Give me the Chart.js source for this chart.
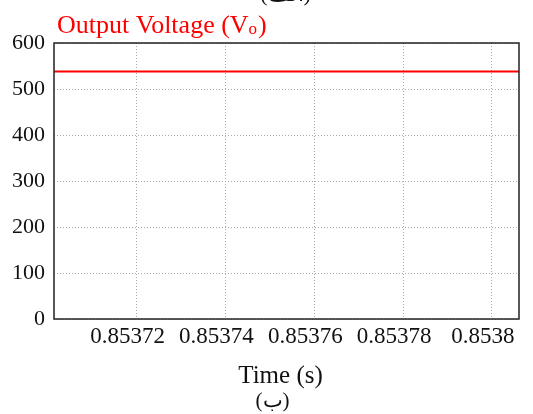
<!DOCTYPE html>
<html>
<head>
<meta charset="utf-8">
<script src="https://cdn.jsdelivr.net/npm/chart.js@4/dist/chart.umd.min.js"></script>
<style>
  html, body { margin: 0; padding: 0; background: #fff; }
  #wrap { width: 533px; height: 414px; position: relative; }
</style>
</head>
<body>
<div id="wrap"><canvas id="c" width="533" height="414"></canvas></div>
<script>
// Output voltage samples over the zoomed time window
const timeSec = [0.8537014, 0.85372, 0.85374, 0.85376, 0.85378, 0.8538, 0.8538061];
const voltage = [538, 538, 538, 538, 538, 538, 538];

// Axis ticks and their printed labels
const xTicks = [0.85372, 0.85374, 0.85376, 0.85378, 0.8538];
const xTickLabels = ['0.85372', '0.85374', '0.85376', '0.85378', '0.8538'];
const yTicks = [0, 100, 200, 300, 400, 500, 600];

const xMin = 0.8537014, xMax = 0.8538061;
const SERIF = '"Liberation Serif", "Times New Roman", serif';

// Frame, red heading "Output Voltage (Vo)", axis caption and sub-figure marks
const framePlugin = {
  id: 'frame',
  afterDraw(chart) {
    const { ctx, chartArea: a } = chart;
    ctx.save();
    ctx.strokeStyle = '#222';
    ctx.lineWidth = 1.5;
    ctx.strokeRect(a.left, a.top, a.right - a.left, a.bottom - a.top);

    // heading with subscript o
    ctx.fillStyle = '#ff0000';
    ctx.textBaseline = 'alphabetic';
    ctx.textAlign = 'left';
    ctx.font = '26px ' + SERIF;
    let x = a.left + 3;
    const y = 33;
    const main = 'Output Voltage (V';
    ctx.fillText(main, x, y);
    x += ctx.measureText(main).width;
    ctx.font = '17px ' + SERIF;
    ctx.fillText('o', x, y + 1);
    x += ctx.measureText('o').width + 1;
    ctx.font = '26px ' + SERIF;
    ctx.fillText(')', x, y);

    // x-axis caption and sub-figure label
    const cx = (a.left + a.right) / 2;
    ctx.fillStyle = '#111';
    ctx.textAlign = 'center';
    ctx.font = '25px ' + SERIF;
    ctx.fillText('Time (s)', cx - 6, a.bottom + 64);
    ctx.font = '21px ' + SERIF;
    ctx.fillText('(ب)', cx - 14, a.bottom + 88);

    // label of the sub-figure above, cut by the top edge
    ctx.font = '22px ' + SERIF;
    ctx.fillText('(الف)', cx - 1, 1);
    ctx.restore();
  }
};

new Chart(document.getElementById('c'), {
  type: 'line',
  data: {
    datasets: [{
      data: timeSec.map((t, i) => ({ x: t, y: voltage[i] })),
      borderColor: '#ff0000',
      borderWidth: 2,
      pointRadius: 0,
      fill: false,
      tension: 0
    }]
  },
  options: {
    responsive: false,
    animation: false,
    layout: { padding: { top: 43, right: 14, left: 0, bottom: 0 } },
    plugins: {
      legend: { display: false },
      tooltip: { enabled: false },
      title: { display: false }
    },
    scales: {
      x: {
        type: 'linear',
        min: xMin,
        max: xMax,
        afterBuildTicks(scale) {
          scale.ticks = xTicks.map(v => ({ value: v }));
        },
        afterFit(scale) { scale.height = 95; },
        ticks: {
          autoSkip: false,
          maxRotation: 0,
          padding: 4,
          labelOffset: -9,
          color: '#111',
          font: { family: SERIF, size: 23 },
          callback(value) {
            const i = xTicks.findIndex(t => Math.abs(t - value) < 1e-9);
            return i >= 0 ? xTickLabels[i] : '';
          }
        },
        grid: {
          color: '#aaa',
          lineWidth: 1,
          drawTicks: false
        },
        border: { display: false, dash: [1, 2] }
      },
      y: {
        min: 0,
        max: 600,
        afterBuildTicks(scale) {
          scale.ticks = yTicks.map(v => ({ value: v }));
        },
        afterFit(scale) { scale.width = 54; },
        ticks: {
          padding: 9,
          color: '#111',
          font: { family: SERIF, size: 22 }
        },
        grid: {
          color: '#aaa',
          lineWidth: 1,
          drawTicks: false
        },
        border: { display: false, dash: [1, 2] }
      }
    }
  },
  plugins: [framePlugin]
});
</script>
</body>
</html>
